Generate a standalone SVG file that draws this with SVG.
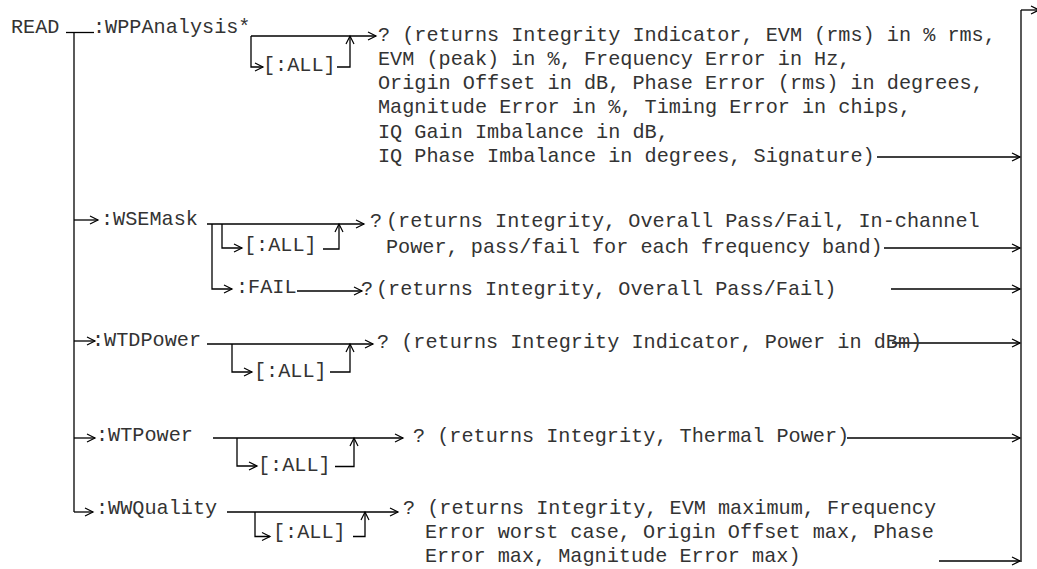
<svg xmlns="http://www.w3.org/2000/svg" width="1037" height="569" viewBox="0 0 1037 569">
<style>
text{font-family:"Liberation Mono","Courier New",monospace;font-size:20.2px;fill:#333;white-space:pre}
.c line,.c polyline{stroke:#000;stroke-width:1.3;fill:none}
</style>
<defs>
<marker id="a" markerWidth="10" markerHeight="10" refX="8" refY="4" orient="auto" markerUnits="userSpaceOnUse" overflow="visible">
<path d="M0,0 L8,4 L0,8" fill="none" stroke="#000" stroke-width="1.2"/>
</marker>
</defs>
<rect width="1037" height="569" fill="#fff"/>
<g class="c" id="connectors">
<line x1="66" y1="32.5" x2="94" y2="32.5"/>
<line x1="74" y1="32.5" x2="74" y2="512"/>
<line x1="74" y1="220" x2="98" y2="220" marker-end="url(#a)"/>
<line x1="74" y1="341" x2="95" y2="341" marker-end="url(#a)"/>
<line x1="74" y1="438" x2="95" y2="438" marker-end="url(#a)"/>
<line x1="74" y1="512" x2="93" y2="512" marker-end="url(#a)"/>
<!-- WPPAnalysis -->
<line x1="251" y1="36" x2="376" y2="36" marker-end="url(#a)"/>
<polyline points="251,36 251,67 263,67" marker-end="url(#a)"/>
<polyline points="337,67 350,67 350,36" marker-end="url(#a)"/>
<line x1="877" y1="157" x2="1020" y2="157" marker-end="url(#a)"/>
<!-- WSEMask -->
<line x1="207" y1="224" x2="364" y2="224" marker-end="url(#a)"/>
<polyline points="212,224 212,289 232,289" marker-end="url(#a)"/>
<polyline points="222,224 222,248 242,248" marker-end="url(#a)"/>
<polyline points="323,249 339,249 339,224" marker-end="url(#a)"/>
<line x1="884" y1="248" x2="1020" y2="248" marker-end="url(#a)"/>
<line x1="297" y1="291" x2="362" y2="291" marker-end="url(#a)"/>
<line x1="891" y1="289" x2="1020" y2="289" marker-end="url(#a)"/>
<!-- WTDPower -->
<line x1="207" y1="344" x2="373" y2="344" marker-end="url(#a)"/>
<polyline points="232,344 232,372 252,372" marker-end="url(#a)"/>
<polyline points="330,372 350,372 350,344" marker-end="url(#a)"/>
<line x1="892" y1="343" x2="1020" y2="343" marker-end="url(#a)"/>
<!-- WTPower -->
<line x1="213" y1="438" x2="403" y2="438" marker-end="url(#a)"/>
<polyline points="237,438 237,466 257,466" marker-end="url(#a)"/>
<polyline points="335,466.5 354,466.5 354,438" marker-end="url(#a)"/>
<line x1="847" y1="438" x2="1020" y2="438" marker-end="url(#a)"/>
<!-- WWQuality -->
<line x1="227" y1="512" x2="398" y2="512" marker-end="url(#a)"/>
<polyline points="255,512 255,536.5 270,536.5" marker-end="url(#a)"/>
<polyline points="353,536.5 365,536.5 365,512" marker-end="url(#a)"/>
<line x1="939" y1="561" x2="1020" y2="561" marker-end="url(#a)"/>
<!-- right rail -->
<line x1="1021" y1="10" x2="1021" y2="562"/>
<line x1="1021" y1="10" x2="1039" y2="10" marker-end="url(#a)"/>
</g>
<g id="read"><text x="11" y="33">READ</text></g>
<g id="wppanalysis"><text x="93" y="33">:WPPAnalysis*</text></g>
<g id="wppanalysis-all"><text x="263" y="71">[:ALL]</text></g>
<g id="wppanalysis-q">
<text x="378" y="40.5">? (returns Integrity Indicator, EVM (rms) in % rms,</text>
<text x="378" y="64.8">EVM (peak) in %, Frequency Error in Hz,</text>
<text x="378" y="89.1">Origin Offset in dB, Phase Error (rms) in degrees,</text>
<text x="378" y="113.4">Magnitude Error in %, Timing Error in chips,</text>
<text x="378" y="137.7">IQ Gain Imbalance in dB,</text>
<text x="378" y="162">IQ Phase Imbalance in degrees, Signature)</text>
</g>
<g id="wsemask"><text x="101" y="225">:WSEMask</text></g>
<g id="wsemask-all"><text x="244" y="251">[:ALL]</text></g>
<g id="wsemask-q">
<text x="370" y="226.5">?</text>
<text x="386" y="226.5">(returns Integrity, Overall Pass/Fail, In-channel</text>
<text x="386" y="253">Power, pass/fail for each frequency band)</text>
</g>
<g id="wsemask-fail"><text x="236" y="293">:FAIL</text></g>
<g id="wsemask-fail-q">
<text x="361" y="295">?</text>
<text x="376" y="295">(returns Integrity, Overall Pass/Fail)</text>
</g>
<g id="wtdpower"><text x="92" y="345.5">:WTDPower</text></g>
<g id="wtdpower-all"><text x="254" y="376.5">[:ALL]</text></g>
<g id="wtdpower-q"><text x="377" y="348">? (returns Integrity Indicator, Power in dBm)</text></g>
<g id="wtpower"><text x="96" y="440.5">:WTPower</text></g>
<g id="wtpower-all"><text x="258" y="470.5">[:ALL]</text></g>
<g id="wtpower-q"><text x="413" y="441.5">? (returns Integrity, Thermal Power)</text></g>
<g id="wwquality"><text x="96" y="514">:WWQuality</text></g>
<g id="wwquality-all"><text x="273" y="538">[:ALL]</text></g>
<g id="wwquality-q">
<text x="403" y="514">? (returns Integrity, EVM maximum, Frequency</text>
<text x="425" y="538">Error worst case, Origin Offset max, Phase</text>
<text x="425" y="562">Error max, Magnitude Error max)</text>
</g>
</svg>
